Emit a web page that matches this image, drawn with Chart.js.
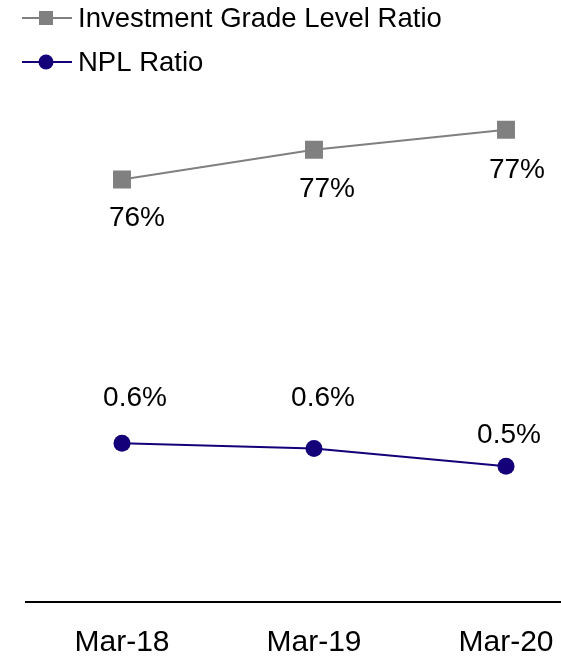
<!DOCTYPE html>
<html>
<head>
<meta charset="utf-8">
<script src="https://cdn.jsdelivr.net/npm/chart.js@4.4.1/dist/chart.umd.min.js"></script>
<style>
  html, body { margin: 0; padding: 0; background: #fff; }
  #wrap { width: 561px; height: 657px; overflow: hidden; position: relative; }
  #chart { display: block; }
</style>
</head>
<body>
<div id="wrap"><canvas id="chart" width="640" height="657"></canvas></div>
<script>
// Period labels on the x axis
const categories = ['Mar-18', 'Mar-19', 'Mar-20'];
// Share of the book rated investment grade (%)
const investmentGradeRatio = [76.2, 76.8, 77.2];
// Non-performing loan ratio (%)
const nplRatio = [0.62, 0.60, 0.53];
// Series names shown in the legend
const seriesNames = ['Investment Grade Level Ratio', 'NPL Ratio'];

const FONT = "'Liberation Sans', Arial, sans-serif";
const GREY = '#808080';
const NAVY = '#140078';

// Value labels next to each point
const valueLabels = {
  id: 'valueLabels',
  afterDatasetsDraw(chart, args, opts) {
    const ctx = chart.ctx;
    ctx.save();
    ctx.font = `${opts.size}px ${FONT}`;
    ctx.fillStyle = '#000';
    ctx.textAlign = 'center';
    ctx.textBaseline = 'middle';
    chart.data.datasets.forEach((ds, i) => {
      const meta = chart.getDatasetMeta(i);
      const offs = opts.offsets[i];
      meta.data.forEach((pt, j) => {
        const txt = ds.labelFormat(ds.data[j]);
        ctx.fillText(txt, pt.x + offs[j][0], pt.y + offs[j][1]);
      });
    });
    ctx.restore();
  }
};

// Legend with a line-through marker for each series
const lineLegend = {
  id: 'lineLegend',
  afterDraw(chart, args, opts) {
    const ctx = chart.ctx;
    ctx.save();
    chart.data.datasets.forEach((ds, i) => {
      const y = opts.top + i * opts.rowGap;
      ctx.strokeStyle = ds.borderColor;
      ctx.lineWidth = 2;
      ctx.beginPath();
      ctx.moveTo(opts.left, y);
      ctx.lineTo(opts.left + 50, y);
      ctx.stroke();
      ctx.fillStyle = ds.pointBackgroundColor;
      const cx = opts.left + 24;
      if (ds.pointStyle === 'rect') {
        ctx.fillRect(cx - 7, y - 7, 14, 14);
      } else {
        ctx.beginPath();
        ctx.arc(cx, y, 7.5, 0, Math.PI * 2);
        ctx.fill();
      }
      ctx.fillStyle = '#000';
      ctx.font = `${opts.size}px ${FONT}`;
      ctx.textAlign = 'left';
      ctx.textBaseline = 'middle';
      ctx.fillText(ds.label, opts.left + 56, y + 1);
    });
    ctx.restore();
  }
};

new Chart(document.getElementById('chart'), {
  type: 'line',
  data: {
    labels: categories,
    datasets: [
      {
        label: seriesNames[0],
        data: investmentGradeRatio,
        yAxisID: 'y',
        borderColor: GREY,
        borderWidth: 2,
        pointStyle: 'rect',
        pointRadius: 12.7,
        pointBackgroundColor: GREY,
        pointBorderColor: GREY,
        pointBorderWidth: 0,
        tension: 0,
        labelFormat: v => v.toFixed(0) + '%'
      },
      {
        label: seriesNames[1],
        data: nplRatio,
        yAxisID: 'y2',
        borderColor: NAVY,
        borderWidth: 2,
        pointStyle: 'circle',
        pointRadius: 8.5,
        pointBackgroundColor: NAVY,
        pointBorderColor: NAVY,
        pointBorderWidth: 0,
        tension: 0,
        labelFormat: v => v.toFixed(1) + '%'
      }
    ]
  },
  options: {
    responsive: false,
    animation: false,
    events: [],
    layout: { padding: { left: 26, right: 38, top: 90, bottom: 0 } },
    scales: {
      x: {
        type: 'category',
        offset: true,
        grid: { display: false, drawTicks: false },
        border: { display: true, color: '#000', width: 2 },
        ticks: { color: '#000', font: { family: FONT, size: 30 }, padding: 23 },
        afterFit(scale) { scale.height = 55; }
      },
      y: { display: false, min: 67.7, max: 78.0 },
      y2: { display: false, min: 0, max: 2.0 }
    },
    plugins: {
      legend: { display: false },
      tooltip: { enabled: false },
      valueLabels: {
        size: 28,
        offsets: [
          [[15, 39], [13, 40], [11, 41]],
          [[13, -45], [9, -50], [3, -31]]
        ]
      },
      lineLegend: { left: 22, top: 18, rowGap: 44, size: 27.5 }
    }
  },
  plugins: [valueLabels, lineLegend]
});
</script>
</body>
</html>
